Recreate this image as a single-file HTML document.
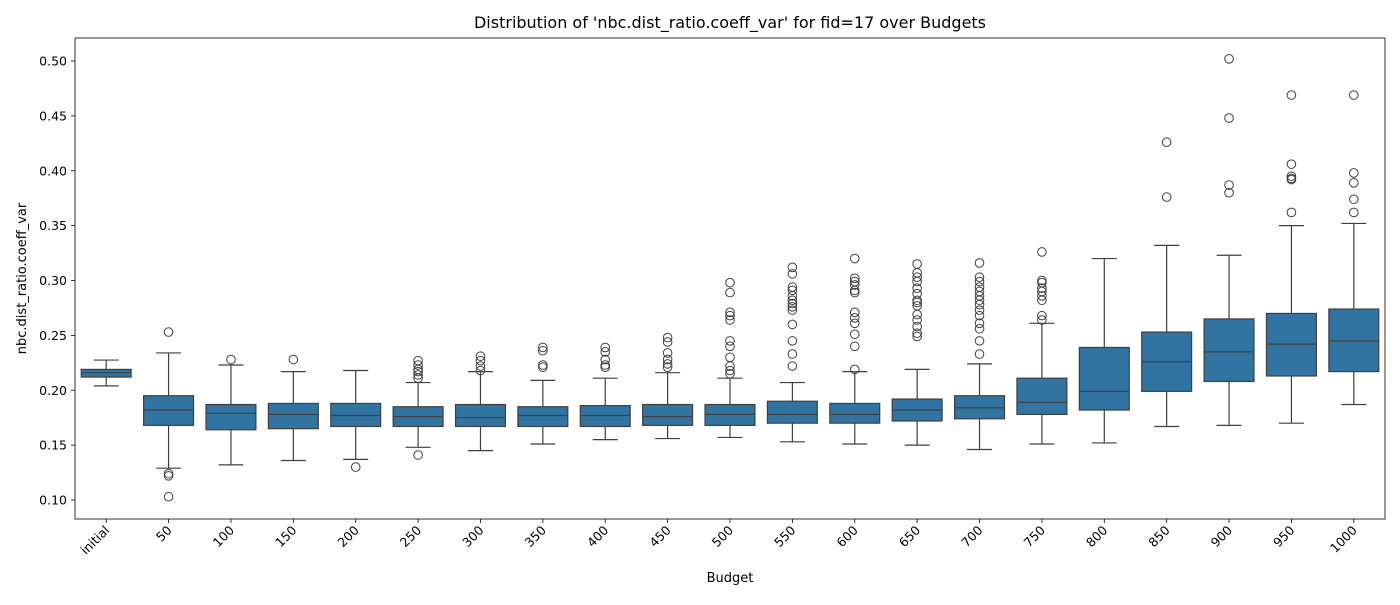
<!DOCTYPE html>
<html><head><meta charset="utf-8"><style>
html,body{margin:0;padding:0;background:#fff;}
svg text{font-family:"DejaVu Sans","Liberation Sans",sans-serif;fill:#000;}
</style></head><body>
<svg id="chart" width="1400" height="600" xmlns="http://www.w3.org/2000/svg"></svg>
<script>
const categories=["initial","50","100","150","200","250","300","350","400","450","500","550","600","650","700","750","800","850","900","950","1000"];
const whiskerLow=[0.204,0.129,0.132,0.136,0.137,0.148,0.145,0.151,0.155,0.156,0.157,0.153,0.151,0.150,0.146,0.151,0.152,0.167,0.168,0.170,0.187];
const q1=[0.212,0.168,0.164,0.165,0.167,0.167,0.167,0.167,0.167,0.168,0.168,0.170,0.170,0.172,0.174,0.178,0.182,0.199,0.208,0.213,0.217];
const medians=[0.216,0.182,0.179,0.178,0.177,0.176,0.175,0.177,0.177,0.176,0.178,0.178,0.178,0.182,0.184,0.189,0.199,0.226,0.235,0.242,0.245];
const q3=[0.219,0.195,0.187,0.188,0.188,0.185,0.187,0.185,0.186,0.187,0.187,0.190,0.188,0.192,0.195,0.211,0.239,0.253,0.265,0.270,0.274];
const whiskerHigh=[0.2275,0.234,0.223,0.217,0.218,0.207,0.217,0.209,0.211,0.216,0.211,0.207,0.217,0.219,0.224,0.261,0.320,0.332,0.323,0.350,0.352];
const outliers=[[],[0.253,0.124,0.122,0.103],[0.228],[0.228],[0.130],
[0.227,0.223,0.219,0.217,0.214,0.211,0.141],[0.231,0.227,0.222,0.218],[0.239,0.236,0.223,0.221],
[0.239,0.235,0.228,0.223,0.221],[0.248,0.244,0.234,0.228,0.224,0.221],
[0.298,0.289,0.271,0.268,0.264,0.245,0.240,0.230,0.222,0.218,0.215],
[0.312,0.306,0.294,0.291,0.286,0.282,0.279,0.276,0.273,0.260,0.245,0.233,0.222],
[0.320,0.302,0.299,0.296,0.291,0.289,0.271,0.266,0.261,0.251,0.240,0.219],
[0.315,0.307,0.303,0.299,0.293,0.288,0.282,0.280,0.277,0.269,0.264,0.258,0.252,0.249],
[0.316,0.303,0.299,0.294,0.290,0.286,0.282,0.278,0.273,0.268,0.261,0.256,0.245,0.233],
[0.326,0.300,0.298,0.293,0.290,0.286,0.282,0.268,0.264],[],[0.426,0.376],
[0.502,0.448,0.387,0.380],[0.469,0.406,0.395,0.393,0.392,0.362],[0.469,0.398,0.389,0.374,0.362]];
const yTicks=[0.10,0.15,0.20,0.25,0.30,0.35,0.40,0.45,0.50];

const svg=document.getElementById('chart');
const NS='http://www.w3.org/2000/svg';
const L=75,R=1385,T=38,B=519;
const y=v=>500-(v-0.10)/0.40*439;
const step=(R-L)/categories.length;
const x=i=>L+step*(i+0.5);
function mk(tag,attrs,parent){const e=document.createElementNS(NS,tag);for(const k in attrs)e.setAttribute(k,attrs[k]);(parent||svg).appendChild(e);return e;}
const stroke='#3f3f3f';
categories.forEach((c,i)=>{
  const g=mk('g',{});
  
  
  const cx=x(i),hw=step*0.4;
  mk('line',{x1:cx,x2:cx,y1:y(q3[i]),y2:y(whiskerHigh[i]),stroke:stroke,'stroke-width':1.2},g);
  mk('line',{x1:cx,x2:cx,y1:y(q1[i]),y2:y(whiskerLow[i]),stroke:stroke,'stroke-width':1.2},g);
  mk('line',{x1:cx-hw/2,x2:cx+hw/2,y1:y(whiskerHigh[i]),y2:y(whiskerHigh[i]),stroke:stroke,'stroke-width':1.2},g);
  mk('line',{x1:cx-hw/2,x2:cx+hw/2,y1:y(whiskerLow[i]),y2:y(whiskerLow[i]),stroke:stroke,'stroke-width':1.2},g);
  mk('rect',{x:cx-hw,y:y(q3[i]),width:2*hw,height:y(q1[i])-y(q3[i]),fill:'#3274a1',stroke:stroke,'stroke-width':1.2},g);
  mk('line',{x1:cx-hw,x2:cx+hw,y1:y(medians[i]),y2:y(medians[i]),stroke:stroke,'stroke-width':1.2},g);
  outliers[i].forEach(v=>{
    const o=mk('circle',{cx:cx,cy:y(v),r:4.3,fill:'none',stroke:stroke,'stroke-width':1},g);
    
    
  });
  const tx=mk('line',{x1:cx,x2:cx,y1:B,y2:B+4,stroke:'#000','stroke-width':0.8});
  const t=mk('text',{x:0,y:0,'font-size':12.5,'text-anchor':'end',transform:`translate(${cx+4},${B+12}) rotate(-45)`});
  t.textContent=c;
  
  
});
yTicks.forEach(v=>{
  mk('line',{x1:L-4,x2:L,y1:y(v),y2:y(v),stroke:'#000','stroke-width':0.8});
  const t=mk('text',{x:L-8,y:y(v)+4.5,'font-size':12.5,'text-anchor':'end'});
  t.textContent=v.toFixed(2);
  
  
});
const fr=mk('rect',{x:L,y:T,width:R-L,height:B-T,fill:'none',stroke:'#000','stroke-width':0.8});


const title=mk('text',{x:(L+R)/2,y:28,'font-size':16,'text-anchor':'middle'});
title.textContent="Distribution of 'nbc.dist_ratio.coeff_var' for fid=17 over Budgets";


const xt=mk('text',{x:(L+R)/2,y:582,'font-size':13,'text-anchor':'middle'});
xt.textContent='Budget';


const yt=mk('text',{x:0,y:0,'font-size':13,'text-anchor':'middle',transform:`translate(26,${(T+B)/2}) rotate(-90)`});
yt.textContent='nbc.dist_ratio.coeff_var';


</script>
</body></html>
